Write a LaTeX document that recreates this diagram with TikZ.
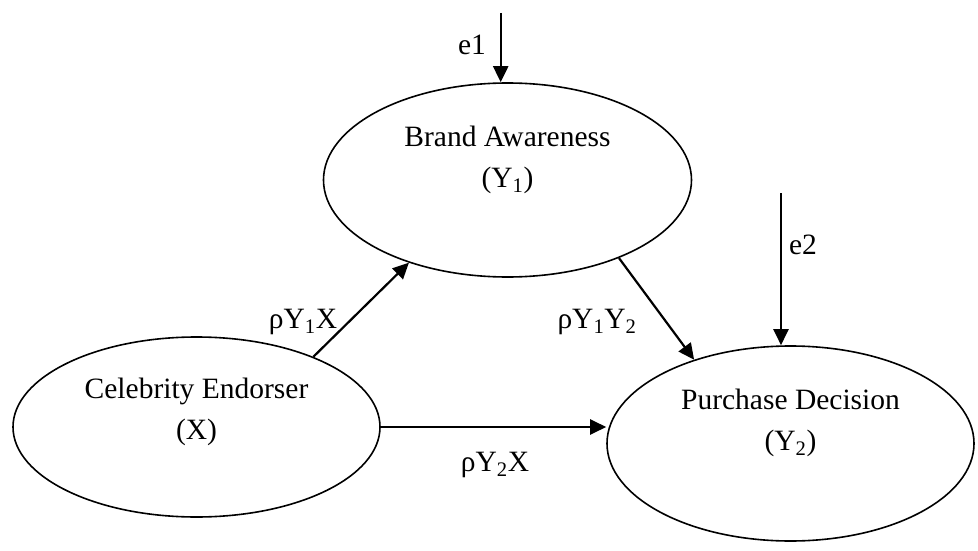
\documentclass[tikz,border=0pt]{standalone}
\usepackage{fontspec}
\setmainfont{Liberation Serif}
\usetikzlibrary{shapes.geometric,arrows.meta}
\begin{document}
\begin{tikzpicture}[x=1pt,y=-1pt,
  latent/.style={ellipse,draw,line width=1.6pt,inner sep=0pt,minimum width=368pt,minimum height=194pt},
  lbl/.style={font=\fontsize{29.5}{41}\selectfont,align=center,inner sep=0pt},
  path/.style={line width=2.2pt,-{Triangle[length=16pt,width=15pt]}}]
\useasboundingbox (0,0) rectangle (978,551);
\node[latent] (brand) at (507.5,180) {};
\node[latent,minimum height=180pt,minimum width=367pt] (cel) at (196.5,427) {};
\node[latent,minimum height=195pt,minimum width=367pt] (pur) at (790.5,443.5) {};
\node[lbl] (tbrand) at (507.5,160) {Brand Awareness\\(Y\textsubscript{1})};
\node[lbl] (tcel) at (196.5,412) {Celebrity Endorser\\(X)};
\node[lbl] (tpur) at (790.5,423) {Purchase Decision\\(Y\textsubscript{2})};
\coordinate (e1s) at (500.7,13);
\coordinate (e2s) at (781,193);
\draw[path] (e1s) -- (e1s |- brand.north);
\draw[path] (e2s) -- (e2s |- pur.north);
\draw[path] (cel.31.7) -- (brand.220.5);
\draw[path] (brand.-35) -- (pur.139.6);
\draw[path] (cel.east) -- (cel.east -| pur.west);
\node[lbl] (le1) at (472,45) {e1};
\node[lbl] (le2) at (803,245) {e2};
\node[lbl] (lyx) at (303,322) {ρY\textsubscript{1}X};
\node[lbl] (lyy) at (597,322) {ρY\textsubscript{1}Y\textsubscript{2}};
\node[lbl] (lyx2) at (495,465) {ρY\textsubscript{2}X};
\end{tikzpicture}
\end{document}
